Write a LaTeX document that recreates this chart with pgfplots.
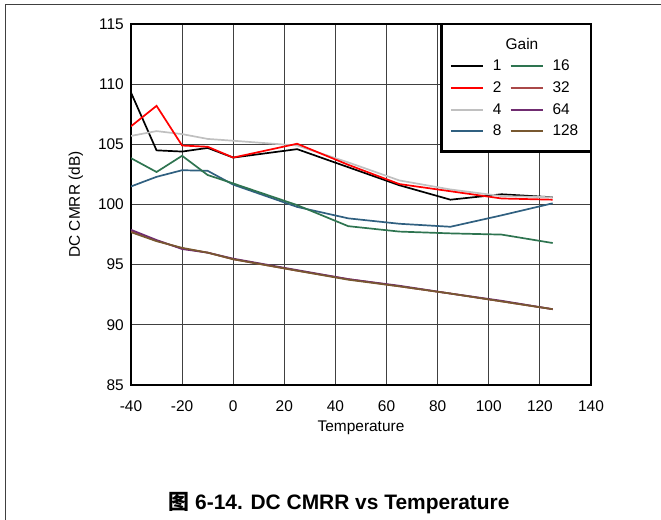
\documentclass[border=0pt]{standalone}
\usepackage{fontspec}
\setmainfont{Liberation Sans}
\newfontfamily\cjk{Noto Sans CJK SC}
\usepackage{pgfplots}
\pgfplotsset{compat=1.18}

\definecolor{gone}{RGB}{0,0,0}
\definecolor{gtwo}{RGB}{255,0,0}
\definecolor{gfour}{RGB}{192,192,192}
\definecolor{geight}{RGB}{48,96,128}
\definecolor{gsixteen}{RGB}{46,116,80}
\definecolor{gthirtytwo}{RGB}{170,72,72}
\definecolor{gsixtyfour}{RGB}{112,44,112}
\definecolor{gonetwoeight}{RGB}{120,88,48}

\begin{document}
\begin{tikzpicture}
\useasboundingbox (0,0) rectangle (661bp,-520bp);
\draw[black!75, line width=0.8bp] (5bp,-520bp) -- (5bp,-4bp) -- (661bp,-4bp);
\begin{axis}[
    at={(131bp,-385bp)}, anchor=south west,
    scale only axis,
    width=460bp, height=361bp,
    xmin=-40, xmax=140, ymin=85, ymax=115,
    xtick={-40,-20,...,140},
    ytick={85,90,...,115},
    major tick length=0pt,
    axis line style={line width=2.2bp},
    grid=major,
    grid style={black!75, line width=0.9bp},
    tick label style={font=\fontsize{15.5}{18}\selectfont},
    /pgf/number format/assume math mode=true,
    xticklabel style={inner sep=0pt, anchor=north, yshift=-15.5bp},
    yticklabel style={inner sep=0pt, anchor=east, xshift=-7bp},
    xlabel={Temperature},
    ylabel={DC CMRR (dB)},
    every axis x label/.style={at={(rel axis cs:0.5,0)}, yshift=-43bp, anchor=center,
        font=\fontsize{15.5}{18}\selectfont},
    every axis y label/.style={at={(rel axis cs:0,0.5)}, xshift=-55bp, rotate=90, anchor=center,
        font=\fontsize{15.5}{18}\selectfont},
    every axis plot/.append style={line width=1.7bp},
    legend columns=2,
    legend cell align=left,
    legend style={draw=none, fill=none, at={(rel axis cs:0.693,0.906)}, anchor=north west,
        font=\fontsize{15.5}{18}\selectfont, inner sep=0pt,
        row sep=5.4bp,
        /tikz/every odd column/.append style={column sep=7bp},
        /tikz/every even column/.append style={column sep=6bp}},
    legend image code/.code={\draw[#1, line width=2bp] (0bp,0bp) -- (32bp,0bp);},
]
\draw[line width=2.2bp, fill=white] (axis cs:81.5,115) rectangle (axis cs:140,104.4);
\node[font=\fontsize{15.5}{18}\selectfont] at (axis cs:113,113.3) {Gain};

\addlegendimage{gone}\addlegendentry{1}
\addlegendimage{gsixteen}\addlegendentry{16}
\addlegendimage{gtwo}\addlegendentry{2}
\addlegendimage{gthirtytwo}\addlegendentry{32}
\addlegendimage{gfour}\addlegendentry{4}
\addlegendimage{gsixtyfour}\addlegendentry{64}
\addlegendimage{geight}\addlegendentry{8}
\addlegendimage{gonetwoeight}\addlegendentry{128}

% Gain 1
\addplot[gone, forget plot] coordinates {(-40,109.3) (-30,104.5) (-20,104.4) (-10,104.7) (0,103.9) (25,104.6) (45,103.1) (65,101.6) (85,100.4) (105,100.85) (125,100.6)};
% Gain 4
\addplot[gfour, forget plot] coordinates {(-40,105.7) (-30,106.1) (-20,105.85) (-10,105.45) (0,105.3) (25,104.9) (45,103.5) (65,102.0) (85,101.25) (105,100.7) (125,100.6)};
% Gain 2
\addplot[gtwo, forget plot] coordinates {(-40,106.5) (-30,108.2) (-20,104.9) (-10,104.8) (0,103.9) (25,105.05) (45,103.3) (65,101.7) (85,101.1) (105,100.5) (125,100.4)};
% Gain 8
\addplot[geight, forget plot] coordinates {(-40,101.5) (-30,102.3) (-20,102.85) (-10,102.8) (0,101.65) (25,99.8) (45,98.85) (65,98.4) (85,98.15) (105,99.1) (125,100.1)};
% Gain 16
\addplot[gsixteen, forget plot] coordinates {(-40,103.85) (-30,102.7) (-20,104.05) (-10,102.45) (0,101.75) (25,99.95) (45,98.2) (65,97.75) (85,97.6) (105,97.5) (125,96.8)};
% Gain 32
\addplot[gthirtytwo, forget plot] coordinates {(-40,97.8) (-30,97.0) (-20,96.35) (-10,96.0) (0,95.45) (25,94.5) (45,93.8) (65,93.2) (85,92.6) (105,91.95) (125,91.3)};
% Gain 64
\addplot[gsixtyfour, forget plot] coordinates {(-40,97.9) (-30,97.05) (-20,96.3) (-10,96.0) (0,95.5) (25,94.55) (45,93.8) (65,93.25) (85,92.6) (105,92.0) (125,91.3)};
% Gain 128
\addplot[gonetwoeight, forget plot] coordinates {(-40,97.7) (-30,96.95) (-20,96.4) (-10,96.0) (0,95.45) (25,94.5) (45,93.75) (65,93.2) (85,92.6) (105,91.95) (125,91.3)};
\end{axis}
\node[font=\fontsize{21}{25}\selectfont\bfseries] at (339bp,-503bp) {{\cjk\bfseries 图} 6-14. DC CMRR vs Temperature};
\end{tikzpicture}
\end{document}
